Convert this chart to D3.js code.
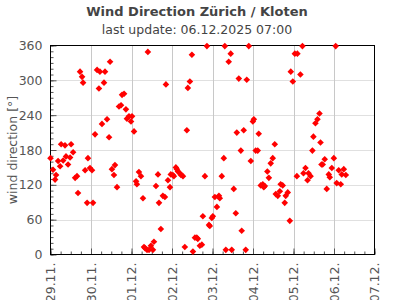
<!DOCTYPE html>
<html>
<head>
<meta charset="utf-8">
<script src="https://cdn.jsdelivr.net/npm/d3@7/dist/d3.min.js"></script>
<style>
  html, body { margin: 0; padding: 0; background: #fff; }
  svg { display: block; font-family: "DejaVu Sans", sans-serif; }
</style>
</head>
<body>
<svg id="chart" width="395" height="300"></svg>
<script>
// ---- data (hours after 29.11.2025 00:00, wind direction in degrees) ----
const hours = [
  0.0,1.5,2.7,3.3,4.5,5.7,6.3,7.5,8.6,9.2,10.4,11.6,12.2,13.4,14.6,15.7,16.3,17.5,18.7,19.3,
  20.5,21.7,22.2,23.4,24.6,25.2,26.4,27.6,28.7,29.3,30.5,31.7,32.3,
  33.5,34.7,35.3,36.4,37.6,38.2,39.4,40.6,41.8,42.4,43.6,44.7,45.3,46.5,47.7,48.3,49.5,
  50.7,51.2,52.4,53.6,54.8,55.4,56.0,57.2,57.7,58.4,59.5,60.7,61.3,62.5,63.7,64.3,
  65.4,66.6,67.8,68.4,69.6,70.8,71.3,72.5,73.1,74.3,74.9,75.5,76.7,77.3,78.5,79.6,
  80.8,81.4,82.6,83.8,84.4,85.6,86.7,87.3,88.5,89.7,90.3,91.5,92.7,93.9,94.4,95.6,96.2,
  97.4,98.6,99.8,100.3,101.5,102.7,103.3,103.9,105.6,106.8,107.4,108.6,109.8,110.4,
  111.6,112.8,113.3,114.5,115.7,116.3,117.5,118.7,119.9,120.5,121.6,122.8,123.4,
  124.6,125.8,126.4,127.0,128.5,129.4,130.5,131.7,132.9,133.5,134.7,135.9,136.4,
  137.6,138.8,139.4,140.6,141.8,142.4,143.6,144.8,146.0,146.3,148.1,149.3,149.9,
  151.1,152.3,152.9,154.1,155.2,155.8,157.0,158.2,159.4,160.0,160.6,
  161.3,162.5,163.7,164.9,165.5,166.7,167.9,169.0,169.6,170.8,172.0,172.6,173.8,175.0
];
const directions = [
  166,146,129,137,161,152,190,162,188,169,155,167,190,176,132,135,106,315,306,296,
  145,89,166,149,145,89,207,318,286,315,225,296,315,
  233,202,332,147,137,154,116,255,257,275,277,250,234,238,229,238,212,
  126,121,142,135,97,13,11,8,349,8,15,8,22,118,138,89,
  44,101,99,293,128,116,138,137,135,150,147,143,140,137,135,13,
  214,287,298,344,5,29,29,27,15,17,66,135,359,51,49,63,66,
  99,82,101,97,135,166,359,8,332,346,8,113,71,210,
  303,179,41,214,8,301,359,161,229,233,179,179,208,
  119,121,116,118,143,132,157,166,190,104,101,109,121,
  119,89,101,107,58,315,298,346,135,346,310,359,140,
  149,128,140,135,179,203,226,233,243,193,155,
  155,164,113,138,133,149,166,359,123,145,121,138,147,137
];
const dayLabels = ["29.11.","30.11.","01.12.","02.12.","03.12.","04.12.","05.12.","06.12.","07.12."];
const yTicks = [0, 60, 120, 180, 240, 300, 360];
const titleText = "Wind Direction Zürich / Kloten";
const subtitleText = "last update: 06.12.2025 07:00";
const yLabel = "wind direction [°]";

// ---- layout ----
const svg = d3.select("#chart");
const pLeft = 50.5, pRight = 374.5, pTop = 45.5, pBottom = 254.5;

const x = d3.scaleLinear().domain([0, 24 * (dayLabels.length - 1)]).range([pLeft, pRight]);
const y = d3.scaleLinear().domain([0, 360]).range([pBottom, pTop]);

const dayHours = dayLabels.map((d, i) => i * 24);

// grid
const g = svg.append("g");
g.selectAll(".hgrid").data(yTicks.slice(1, -1)).join("line")
  .attr("x1", pLeft).attr("x2", pRight)
  .attr("y1", d => Math.round(y(d)) + 0.5).attr("y2", d => Math.round(y(d)) + 0.5)
  .attr("stroke", "#e0e0e0").attr("stroke-width", 1);
g.selectAll(".vgrid").data(dayHours.slice(1, -1)).join("line")
  .attr("x1", d => Math.round(x(d)) + 0.5).attr("x2", d => Math.round(x(d)) + 0.5)
  .attr("y1", pTop).attr("y2", pBottom)
  .attr("stroke", "#c8c8c8").attr("stroke-width", 1);

// minor ticks (inward)
const minorY = d3.range(0, 361, 10);
const yMinor = d3.axisRight(y).tickValues(minorY).tickSize(3).tickFormat("");
svg.append("g").attr("transform", `translate(${pLeft},0)`).call(yMinor)
  .call(s => s.select(".domain").remove())
  .call(s => s.selectAll("line").attr("stroke", "#555"));
const yMajor = d3.axisRight(y).tickValues(yTicks).tickSize(6).tickFormat("");
svg.append("g").attr("transform", `translate(${pLeft},0)`).call(yMajor)
  .call(s => s.select(".domain").remove())
  .call(s => s.selectAll("line").attr("stroke", "#555"));

const minorX = d3.range(0, 24 * (dayLabels.length - 1) + 1, 6);
const xMinor = d3.axisTop(x).tickValues(minorX).tickSize(3).tickFormat("");
svg.append("g").attr("transform", `translate(0,${pBottom})`).call(xMinor)
  .call(s => s.select(".domain").remove())
  .call(s => s.selectAll("line").attr("stroke", "#555"));
const xMajor = d3.axisTop(x).tickValues(dayHours).tickSize(6).tickFormat("");
svg.append("g").attr("transform", `translate(0,${pBottom})`).call(xMajor)
  .call(s => s.select(".domain").remove())
  .call(s => s.selectAll("line").attr("stroke", "#555"));

// frame
svg.append("rect").attr("x", pLeft).attr("y", pTop)
  .attr("width", pRight - pLeft).attr("height", pBottom - pTop)
  .attr("fill", "none").attr("stroke", "#000").attr("stroke-width", 1);

// y labels
const yAxis = d3.axisLeft(y).tickValues(yTicks).tickSize(0).tickPadding(8);
svg.append("g").attr("transform", `translate(${pLeft},0)`).call(yAxis)
  .call(s => s.select(".domain").remove())
  .call(s => s.selectAll("text")
    .attr("fill", "#555").style("font-size", "12.5px").style("font-family", "DejaVu Sans"));

// x labels (rotated)
const xAxis = d3.axisBottom(x).tickValues(dayHours).tickSize(0).tickPadding(0)
  .tickFormat((d, i) => dayLabels[i]);
svg.append("g").attr("transform", `translate(0,${pBottom})`).call(xAxis)
  .call(s => s.select(".domain").remove())
  .call(s => s.selectAll("text")
    .attr("fill", "#555").style("font-size", "12.5px").style("font-family", "DejaVu Sans")
    .attr("text-anchor", "end")
    .attr("transform", "rotate(-90)")
    .attr("x", -8).attr("y", 0).attr("dy", "0.35em"));

// points
const pts = hours.map((h, i) => ({ h, d: directions[i] }));
svg.append("g").selectAll("path").data(pts).join("path")
  .attr("transform", p => `translate(${x(p.h)},${y(p.d)})`)
  .attr("d", "M0,-3.3L3.3,0L0,3.3L-3.3,0Z")
  .attr("fill", "#ff0000");

// titles
svg.append("text").attr("x", 197).attr("y", 16).attr("text-anchor", "middle")
  .attr("fill", "#444").style("font-weight", "bold").style("font-size", "13px")
  .text(titleText);
svg.append("text").attr("x", 197).attr("y", 34).attr("text-anchor", "middle")
  .attr("fill", "#444").style("font-size", "12.5px")
  .text(subtitleText);
svg.append("text")
  .attr("transform", `translate(13,${(pTop + pBottom) / 2}) rotate(-90)`)
  .attr("text-anchor", "middle").attr("dy", "0.35em")
  .attr("fill", "#555").style("font-size", "12.5px")
  .text(yLabel);
</script>
</body>
</html>
